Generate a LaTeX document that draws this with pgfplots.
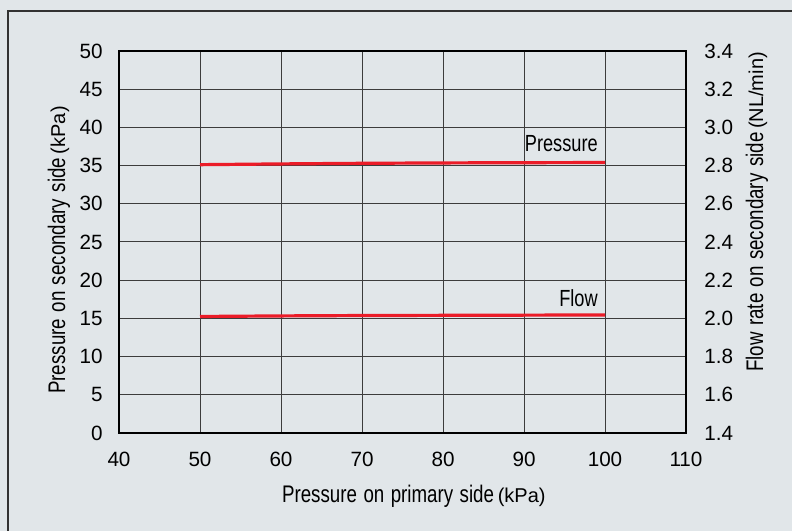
\documentclass[border=0pt]{standalone}
\usepackage{fontspec}
\setmainfont{Liberation Sans}
\newfontfamily\condfont{Liberation Sans}[FakeStretch=0.78, WordSpace=1.25]
\usepackage{pgfplots}
\pgfplotsset{compat=1.18}

\definecolor{bgcolor}{RGB}{225,230,233}
\definecolor{gridcolor}{RGB}{60,60,60}
\definecolor{linered}{RGB}{235,28,40}
\definecolor{framecolor}{RGB}{50,50,50}

\pgfplotsset{
  chartbox/.style={
    at={(89.25pt,73.5pt)}, anchor=south west,
    scale only axis, width=425.25pt, height=286.5pt,
    xmin=40, xmax=110,
    major tick length=0pt,
    axis line style={black, line width=1pt},
    tick label style={font=\fontsize{15.5}{17}\selectfont},
    /pgf/number format/assume math mode=true,
  },
}

\begin{document}
\begin{tikzpicture}
\useasboundingbox (0,0) rectangle (594pt,398.25pt);
\fill[bgcolor] (0,0) rectangle (594pt,398.25pt);
\draw[framecolor, line width=1.5pt] (6pt,-10pt) -- (6pt,390pt) -- (610pt,390pt);

% left axis: pressure (kPa)
\begin{axis}[chartbox,
    ymin=0, ymax=50,
    xtick={40,50,...,110}, ytick={0,5,...,50},
    xtick pos=bottom, ytick pos=left,
    grid=major, grid style={gridcolor, line width=0.75pt},
    xticklabel style={anchor=north, inner sep=0pt, yshift=-14.25pt},
    yticklabel style={anchor=east, inner sep=0pt, xshift=-12pt},
    every axis x label/.style={at={(axis description cs:0.52,-0.183)}, anchor=base, inner sep=0pt},
    every axis y label/.style={at={(axis description cs:-0.0952,0.479)}, rotate=90, anchor=base, inner sep=0pt},
    xlabel={{\condfont\fontsize{18}{20}\selectfont Pressure on primary side} {\fontsize{15}{17}\selectfont(kPa)}},
    ylabel={{\condfont\fontsize{18}{20}\selectfont Pressure on secondary side} {\fontsize{15}{17}\selectfont(kPa)}},
  ]
  \addplot[linered, line width=2.4pt] coordinates {
    (50,35.12) (60,35.22) (70,35.30) (80,35.35) (90,35.38) (100,35.40)};
  \node[anchor=base east, inner sep=0pt, xshift=-5.25pt, yshift=8pt,
        font=\condfont\fontsize{17.5}{19}\selectfont] at (axis cs:100,35.40) {Pressure};
\end{axis}

% right axis: flow rate (NL/min)
\begin{axis}[chartbox,
    ymin=1.4, ymax=3.4,
    ytick={1.4,1.6,1.8,2.0,2.2,2.4,2.6,2.8,3.0,3.2,3.4},
    axis x line=none, axis y line*=right,
    yticklabel style={anchor=west, inner sep=0pt, xshift=13.5pt,
      /pgf/number format/.cd, fixed, fixed zerofill, precision=1},
    every axis y label/.style={at={(axis description cs:1.1358,0.5785)}, rotate=90, anchor=base, inner sep=0pt},
    ylabel={{\condfont\fontsize{18}{20}\selectfont Flow rate on secondary side} {\fontsize{15}{17}\selectfont(NL/min)}},
  ]
  \addplot[linered, line width=2.4pt] coordinates {
    (50,2.010) (60,2.013) (70,2.015) (80,2.016) (90,2.017) (100,2.018)};
  \node[anchor=base east, inner sep=0pt, xshift=-5.25pt, yshift=6.2pt,
        font=\condfont\fontsize{17.5}{19}\selectfont] at (axis cs:100,2.018) {Flow};
\end{axis}
\end{tikzpicture}
\end{document}
